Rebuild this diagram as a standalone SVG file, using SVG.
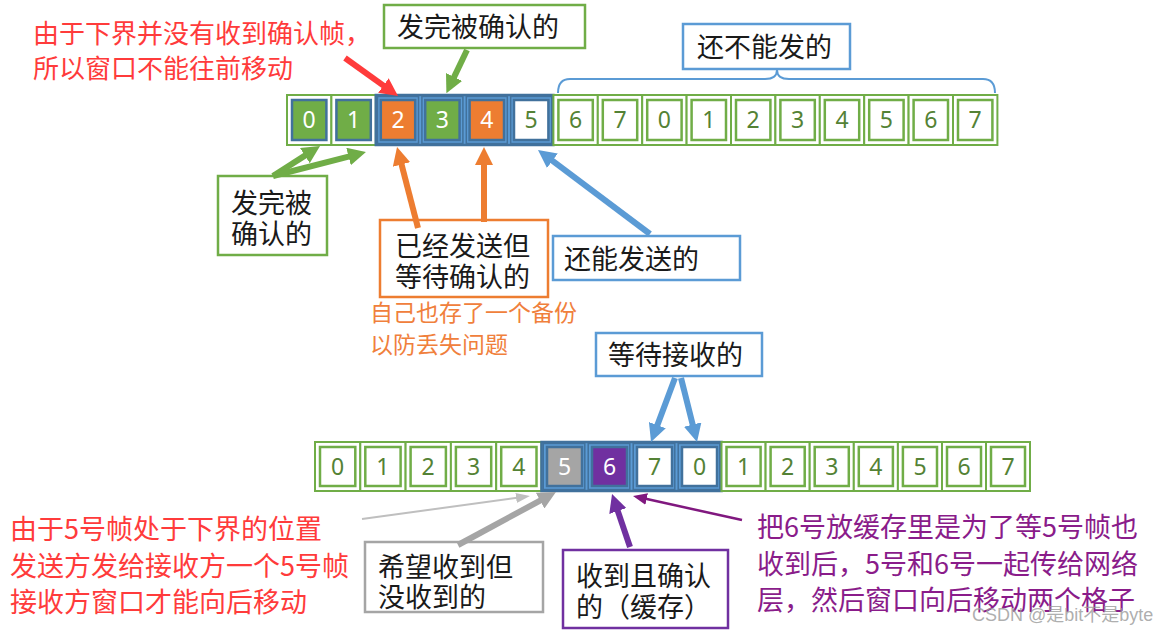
<svg xmlns="http://www.w3.org/2000/svg" width="1176" height="634" viewBox="0 0 1176 634">
<style>
.cg{fill:#fff;stroke:#70AD47;stroke-width:2}
.ig{fill:#fff;stroke:#70AD47;stroke-width:2.5}
.win{fill:#5B9BD5;stroke:#41719C;stroke-width:2.5}
.wc{fill:none;stroke:#41719C;stroke-width:1.5}
.ib{stroke:#41719C;stroke-width:2.5}
.d{font-family:"Noto Sans","Liberation Sans",sans-serif;font-size:23px;text-anchor:middle}
.dg{fill:#548235}
.dw{fill:#fff}
.lbl{font-family:"Noto Sans CJK SC","Noto Sans",sans-serif;font-size:27px;fill:#1a1a1a}
.note{font-family:"Noto Sans CJK SC","Noto Sans",sans-serif}
.box{fill:#fff;stroke-width:2.5}
.thick{fill:none;stroke-width:6}
</style>
<defs>
<marker id="aG" markerUnits="userSpaceOnUse" markerWidth="18" markerHeight="18" viewBox="0 0 18 18" refX="1" refY="9" orient="auto"><path d="M0,0 L18,9 L0,18 z" fill="#70AD47"/></marker>
<marker id="aR" markerUnits="userSpaceOnUse" markerWidth="18" markerHeight="18" viewBox="0 0 18 18" refX="1" refY="9" orient="auto"><path d="M0,0 L18,9 L0,18 z" fill="#FF3B3B"/></marker>
<marker id="aO" markerUnits="userSpaceOnUse" markerWidth="18" markerHeight="18" viewBox="0 0 18 18" refX="1" refY="9" orient="auto"><path d="M0,0 L18,9 L0,18 z" fill="#ED7D31"/></marker>
<marker id="aB" markerUnits="userSpaceOnUse" markerWidth="18" markerHeight="18" viewBox="0 0 18 18" refX="1" refY="9" orient="auto"><path d="M0,0 L18,9 L0,18 z" fill="#5B9BD5"/></marker>
<marker id="aGr" markerUnits="userSpaceOnUse" markerWidth="18" markerHeight="18" viewBox="0 0 18 18" refX="1" refY="9" orient="auto"><path d="M0,0 L18,9 L0,18 z" fill="#A5A5A5"/></marker>
<marker id="aP" markerUnits="userSpaceOnUse" markerWidth="18" markerHeight="18" viewBox="0 0 18 18" refX="1" refY="9" orient="auto"><path d="M0,0 L18,9 L0,18 z" fill="#7030A0"/></marker>
<marker id="tGr" markerUnits="userSpaceOnUse" markerWidth="14" markerHeight="10" viewBox="0 0 14 10" refX="1" refY="5" orient="auto"><path d="M0,0 L14,5 L0,10 z" fill="#BFBFBF"/></marker>
<marker id="tP" markerUnits="userSpaceOnUse" markerWidth="14" markerHeight="12" viewBox="0 0 14 12" refX="1" refY="6" orient="auto"><path d="M0,0 L14,6 L0,12 z" fill="#80187F"/></marker>
</defs>
<rect width="1176" height="634" fill="#fff"/>

<!-- top row -->
<g id="top-row">
<g id="t0"><rect class="cg" x="287" y="95" width="44.4" height="50"/><rect class="ib" fill="#70AD47" x="292" y="100" width="34.4" height="40"/><text class="d dw" x="309.2" y="128">0</text></g>
<g id="t1"><rect class="cg" x="331.4" y="95" width="44.4" height="50"/><rect class="ib" fill="#70AD47" x="336.4" y="100" width="34.4" height="40"/><text class="d dw" x="353.6" y="128">1</text></g>
<g id="top-window">
<rect class="win" x="375.8" y="95" width="177.6" height="50"/>
<g id="t2"><rect class="wc" x="377.5" y="96.5" width="41" height="47"/><rect class="ib" fill="#ED7D31" x="380.8" y="100" width="34.4" height="40"/><text class="d dw" x="398" y="128">2</text></g>
<g id="t3"><rect class="wc" x="421.9" y="96.5" width="41" height="47"/><rect class="ib" fill="#70AD47" x="425.2" y="100" width="34.4" height="40"/><text class="d dw" x="442.4" y="128">3</text></g>
<g id="t4"><rect class="wc" x="466.3" y="96.5" width="41" height="47"/><rect class="ib" fill="#ED7D31" x="469.6" y="100" width="34.4" height="40"/><text class="d dw" x="486.8" y="128">4</text></g>
<g id="t5"><rect class="wc" x="510.7" y="96.5" width="41" height="47"/><rect class="ib" fill="#fff" x="514" y="100" width="34.4" height="40"/><text class="d dg" x="531.2" y="128">5</text></g>
</g>
<g id="t6"><rect class="cg" x="553.4" y="95" width="44.4" height="50"/><rect class="ig" x="558.4" y="100" width="34.4" height="40"/><text class="d dg" x="575.6" y="128">6</text></g>
<g id="t7"><rect class="cg" x="597.8" y="95" width="44.4" height="50"/><rect class="ig" x="602.8" y="100" width="34.4" height="40"/><text class="d dg" x="620" y="128">7</text></g>
<g id="t8"><rect class="cg" x="642.2" y="95" width="44.4" height="50"/><rect class="ig" x="647.2" y="100" width="34.4" height="40"/><text class="d dg" x="664.4" y="128">0</text></g>
<g id="t9"><rect class="cg" x="686.6" y="95" width="44.4" height="50"/><rect class="ig" x="691.6" y="100" width="34.4" height="40"/><text class="d dg" x="708.8" y="128">1</text></g>
<g id="t10"><rect class="cg" x="731" y="95" width="44.4" height="50"/><rect class="ig" x="736" y="100" width="34.4" height="40"/><text class="d dg" x="753.2" y="128">2</text></g>
<g id="t11"><rect class="cg" x="775.4" y="95" width="44.4" height="50"/><rect class="ig" x="780.4" y="100" width="34.4" height="40"/><text class="d dg" x="797.6" y="128">3</text></g>
<g id="t12"><rect class="cg" x="819.8" y="95" width="44.4" height="50"/><rect class="ig" x="824.8" y="100" width="34.4" height="40"/><text class="d dg" x="842" y="128">4</text></g>
<g id="t13"><rect class="cg" x="864.2" y="95" width="44.4" height="50"/><rect class="ig" x="869.2" y="100" width="34.4" height="40"/><text class="d dg" x="886.4" y="128">5</text></g>
<g id="t14"><rect class="cg" x="908.6" y="95" width="44.4" height="50"/><rect class="ig" x="913.6" y="100" width="34.4" height="40"/><text class="d dg" x="930.8" y="128">6</text></g>
<g id="t15"><rect class="cg" x="953" y="95" width="44.4" height="50"/><rect class="ig" x="958" y="100" width="34.4" height="40"/><text class="d dg" x="975.2" y="128">7</text></g>
</g>

<!-- bottom row -->
<g id="bottom-row">
<g id="b0"><rect class="cg" x="315" y="442" width="45.3" height="49"/><rect class="ig" x="320" y="447" width="35.3" height="39"/><text class="d dg" x="337.6" y="475">0</text></g>
<g id="b1"><rect class="cg" x="360.3" y="442" width="45.3" height="49"/><rect class="ig" x="365.3" y="447" width="35.3" height="39"/><text class="d dg" x="382.9" y="475">1</text></g>
<g id="b2"><rect class="cg" x="405.6" y="442" width="45.3" height="49"/><rect class="ig" x="410.6" y="447" width="35.3" height="39"/><text class="d dg" x="428.2" y="475">2</text></g>
<g id="b3"><rect class="cg" x="450.9" y="442" width="45.3" height="49"/><rect class="ig" x="455.9" y="447" width="35.3" height="39"/><text class="d dg" x="473.5" y="475">3</text></g>
<g id="b4"><rect class="cg" x="496.2" y="442" width="45.3" height="49"/><rect class="ig" x="501.2" y="447" width="35.3" height="39"/><text class="d dg" x="518.8" y="475">4</text></g>
<g id="bottom-window">
<rect class="win" x="541.5" y="442" width="180" height="49"/>
<g id="b5"><rect class="wc" x="543.2" y="443.5" width="41.6" height="46"/><rect class="ib" fill="#A5A5A5" x="547" y="447" width="35" height="39"/><text class="d dw" x="564.5" y="475">5</text></g>
<g id="b6"><rect class="wc" x="588.2" y="443.5" width="41.6" height="46"/><rect class="ib" fill="#7030A0" x="592" y="447" width="35" height="39"/><text class="d dw" x="609.5" y="475">6</text></g>
<g id="b7"><rect class="wc" x="633.2" y="443.5" width="41.6" height="46"/><rect class="ib" fill="#fff" x="637" y="447" width="35" height="39"/><text class="d dg" x="654.5" y="475">7</text></g>
<g id="b8"><rect class="wc" x="678.2" y="443.5" width="41.6" height="46"/><rect class="ib" fill="#fff" x="682" y="447" width="35" height="39"/><text class="d dg" x="699.5" y="475">0</text></g>
</g>
<g id="b9"><rect class="cg" x="721.5" y="442" width="44.1" height="49"/><rect class="ig" x="726.5" y="447" width="34.1" height="39"/><text class="d dg" x="743.6" y="475">1</text></g>
<g id="b10"><rect class="cg" x="765.6" y="442" width="44.1" height="49"/><rect class="ig" x="770.6" y="447" width="34.1" height="39"/><text class="d dg" x="787.7" y="475">2</text></g>
<g id="b11"><rect class="cg" x="809.7" y="442" width="44.1" height="49"/><rect class="ig" x="814.7" y="447" width="34.1" height="39"/><text class="d dg" x="831.8" y="475">3</text></g>
<g id="b12"><rect class="cg" x="853.8" y="442" width="44.1" height="49"/><rect class="ig" x="858.8" y="447" width="34.1" height="39"/><text class="d dg" x="875.9" y="475">4</text></g>
<g id="b13"><rect class="cg" x="897.9" y="442" width="44.1" height="49"/><rect class="ig" x="902.9" y="447" width="34.1" height="39"/><text class="d dg" x="920" y="475">5</text></g>
<g id="b14"><rect class="cg" x="942" y="442" width="44" height="49"/><rect class="ig" x="947" y="447" width="34" height="39"/><text class="d dg" x="964" y="475">6</text></g>
<g id="b15"><rect class="cg" x="986" y="442" width="44" height="49"/><rect class="ig" x="991" y="447" width="34" height="39"/><text class="d dg" x="1008" y="475">7</text></g>
</g>

<!-- label boxes -->
<g id="box-sent-acked-top"><rect class="box" stroke="#70AD47" x="384" y="5" width="201" height="43"/><text class="lbl" x="397" y="37">发完被确认的</text></g>
<g id="box-cannot-send"><rect class="box" stroke="#5B9BD5" x="683" y="24" width="167" height="45"/><text class="lbl" x="697" y="57">还不能发的</text></g>
<g id="box-sent-acked-left"><rect class="box" stroke="#70AD47" x="218" y="176" width="109" height="79"/><text class="lbl"><tspan x="231" y="213">发完被</tspan><tspan x="231" y="244">确认的</tspan></text></g>
<g id="box-sent-waiting"><rect class="box" stroke="#ED7D31" x="380" y="220" width="168" height="77"/><text class="lbl"><tspan x="395" y="256">已经发送但</tspan><tspan x="395" y="287">等待确认的</tspan></text></g>
<g id="box-can-send"><rect class="box" stroke="#5B9BD5" x="553" y="236" width="187" height="44"/><text class="lbl" x="564" y="269">还能发送的</text></g>
<g id="box-wait-recv"><rect class="box" stroke="#5B9BD5" x="596" y="333" width="166" height="43"/><text class="lbl" x="608" y="365">等待接收的</text></g>
<g id="box-expected"><rect class="box" stroke="#A5A5A5" x="365" y="542" width="178" height="70"/><text class="lbl"><tspan x="378" y="577">希望收到但</tspan><tspan x="378" y="607">没收到的</tspan></text></g>
<g id="box-received"><rect class="box" stroke="#7030A0" x="563" y="550" width="165" height="78"/><text class="lbl"><tspan x="576" y="586">收到且确认</tspan><tspan x="576" y="617">的（缓存）</tspan></text></g>

<!-- brace -->
<g id="brace"><path d="M558,93 Q558,79 570,79 L765,79 Q777,79 777,70 Q777,79 789,79 L983,79 Q995,79 995,93" fill="none" stroke="#5B9BD5" stroke-width="2"/></g>

<!-- annotations -->
<text id="note-top" class="note" fill="#FF3B3B" font-size="26"><tspan x="33" y="43">由于下界并没有收到确认帧，</tspan><tspan x="33" y="78">所以窗口不能往前移动</tspan></text>
<text id="note-backup" class="note" fill="#F0803C" font-size="23"><tspan x="370" y="321">自己也存了一个备份</tspan><tspan x="370" y="353">以防丢失问题</tspan></text>
<text id="note-bottom-left" class="note" fill="#FF3B3B" font-size="27"><tspan x="10" y="539">由于5号帧处于下界的位置</tspan><tspan x="10" y="576">发送方发给接收方一个5号帧</tspan><tspan x="10" y="612">接收方窗口才能向后移动</tspan></text>
<text id="note-bottom-right" class="note" fill="#8A1C8A" font-size="27"><tspan x="757" y="537">把6号放缓存里是为了等5号帧也</tspan><tspan x="757" y="574">收到后，5号和6号一起传给网络</tspan><tspan x="757" y="610">层，然后窗口向后移动两个格子</tspan></text>
<text id="watermark" x="972" y="621" font-family="'Liberation Sans','Noto Sans CJK SC',sans-serif" font-size="18" fill="#999" fill-opacity="0.8">CSDN @是bit不是byte</text>

<!-- connectors -->
<g id="connectors">
<line class="thick" stroke="#FF3B3B" x1="345" y1="58" x2="384.2" y2="86.1" marker-end="url(#aR)"/>
<line class="thick" stroke="#70AD47" x1="467" y1="50" x2="453.7" y2="77.9" marker-end="url(#aG)"/>
<line class="thick" stroke="#70AD47" x1="273" y1="176" x2="305.7" y2="155.1" marker-end="url(#aG)"/>
<line class="thick" stroke="#70AD47" x1="273" y1="176" x2="349.5" y2="156.3" marker-end="url(#aG)"/>
<line class="thick" stroke="#ED7D31" x1="418" y1="228" x2="401.3" y2="163.5" marker-end="url(#aO)"/>
<line class="thick" stroke="#ED7D31" x1="484" y1="222" x2="484" y2="164" marker-end="url(#aO)"/>
<line class="thick" stroke="#5B9BD5" x1="650" y1="234" x2="551.6" y2="160.2" marker-end="url(#aB)"/>
<line class="thick" stroke="#5B9BD5" x1="675" y1="378" x2="657" y2="426.1" marker-end="url(#aB)"/>
<line class="thick" stroke="#5B9BD5" x1="681" y1="378" x2="692.9" y2="425.5" marker-end="url(#aB)"/>
<line fill="none" stroke="#BFBFBF" stroke-width="2" x1="362" y1="519" x2="517.1" y2="497.8" marker-end="url(#tGr)"/>
<line class="thick" stroke="#A5A5A5" x1="458" y1="545" x2="541" y2="500.1" marker-end="url(#aGr)"/>
<line class="thick" stroke="#7030A0" x1="630" y1="547" x2="617.5" y2="510.1" marker-end="url(#aP)"/>
<line fill="none" stroke="#80187F" stroke-width="2.5" x1="742" y1="520" x2="645.7" y2="498.8" marker-end="url(#tP)"/>
</g>
</svg>
